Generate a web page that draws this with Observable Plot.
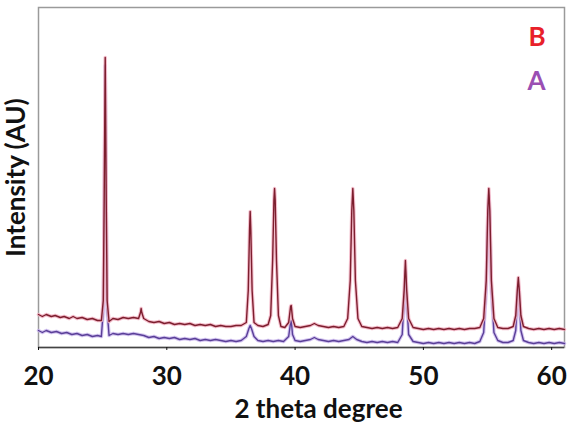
<!DOCTYPE html>
<html>
<head>
<meta charset="utf-8">
<script src="https://cdn.jsdelivr.net/npm/d3@7"></script>
<script src="https://cdn.jsdelivr.net/npm/@observablehq/plot@0.6"></script>
<style>
  body { margin: 0; background: #fff; }
  #chart { width: 570px; height: 424px; }
</style>
</head>
<body>
<div id="chart"></div>
<script>
// 2 theta (degree) and intensity (AU)
const bX = [20.0,20.3,20.6,21.0,21.3,21.7,22.0,22.4,22.7,23.0,23.4,23.8,24.2,24.6,24.9,25.05,25.12,25.2,25.28,25.35,25.5,25.8,26.2,26.6,27.0,27.4,27.8,27.95,28.0,28.05,28.2,28.6,29.0,29.4,29.8,30.2,30.6,31.0,31.4,31.8,32.2,32.6,33.0,33.4,33.8,34.2,34.6,35.0,35.4,35.8,36.2,36.35,36.45,36.5,36.55,36.65,36.8,37.1,37.5,37.9,38.1,38.25,38.35,38.4,38.45,38.55,38.7,38.9,39.2,39.5,39.65,39.7,39.8,40.0,40.4,40.8,41.2,41.5,41.8,42.2,42.6,43.0,43.4,43.8,44.1,44.3,44.42,44.5,44.58,44.7,44.9,45.2,45.6,46.0,46.4,46.8,47.2,47.6,48.0,48.35,48.5,48.6,48.7,48.85,49.2,49.6,50.0,50.4,50.8,51.2,51.6,52.0,52.4,52.8,53.2,53.6,54.0,54.4,54.7,54.9,55.02,55.1,55.18,55.3,55.5,55.8,56.2,56.6,57.0,57.2,57.32,57.4,57.48,57.6,57.8,58.2,58.6,59.0,59.4,59.8,60.2,60.6,61.0];
const bY = [33,31,33,31,32,30,31,29,31,29,30,28,29,27,27,47,147,290,147,47,26,29,28,30,29,30,29,35,39,35,29,26,25,26,24,25,23,24,23,24,22,23,22,23,21,22,21,21,22,22,25,57,117,136,117,57,25,22,21,23,32,87,147,159,147,87,32,21,20,25,41,42,29,21,20,21,22,24,22,21,20,21,20,21,29,67,137,159,137,67,29,21,20,19,20,19,20,19,20,29,57,87,57,29,20,19,18,19,18,19,18,19,18,19,18,19,19,20,29,67,137,159,137,67,29,20,19,19,21,32,57,70,57,32,21,19,18,19,18,19,18,19,18];

const aX = [20.0,20.3,20.6,21.0,21.4,21.8,22.2,22.6,23.0,23.4,23.8,24.2,24.6,24.9,25.05,25.12,25.2,25.28,25.35,25.5,25.8,26.2,26.6,27.0,27.4,27.8,28.2,28.6,29.0,29.4,29.8,30.2,30.6,31.0,31.4,31.8,32.2,32.6,33.0,33.4,33.8,34.2,34.6,35.0,35.4,35.8,36.2,36.4,36.5,36.6,36.8,37.1,37.5,37.9,38.3,38.7,39.1,39.5,39.65,39.7,39.8,40.0,40.4,40.8,41.2,41.5,41.8,42.2,42.6,43.0,43.4,43.8,44.2,44.5,44.8,45.2,45.6,46.0,46.4,46.8,47.2,47.6,48.0,48.35,48.5,48.6,48.7,48.85,49.2,49.6,50.0,50.4,50.8,51.2,51.6,52.0,52.4,52.8,53.2,53.6,54.0,54.4,54.7,54.9,55.02,55.1,55.18,55.3,55.5,55.8,56.2,56.6,57.0,57.2,57.32,57.4,57.48,57.6,57.8,58.2,58.6,59.0,59.4,59.8,60.2,60.6,61.0];
const aY = [17,15,17,15,16,14,15,13,14,12,13,11,12,11,37,137,282,137,37,12,14,13,14,13,14,13,12,10,11,9,10,9,10,8,9,8,9,7,8,7,8,7,6,7,6,7,11,19,22,19,11,7,6,7,6,7,6,11,25,27,13,7,6,7,8,10,8,7,6,7,6,7,8,11,8,6,5,6,5,6,5,6,5,13,47,77,47,13,6,5,4,5,4,5,4,5,4,5,4,5,4,6,15,57,127,152,127,57,15,7,5,5,7,17,47,62,47,17,7,5,4,5,4,5,4,5,4];

const xTicks = [20, 30, 40, 50, 60];
const seriesNames = ["B", "A"];
const seriesColors = ["#e8202a", "#9a4fb3"];

const rowsB = bX.map((x, i) => ({x, y: bY[i]}));
const rowsA = aX.map((x, i) => ({x, y: aY[i]}));

const chart = Plot.plot({
  width: 570,
  height: 424,
  marginLeft: 38,
  marginRight: 6,
  marginTop: 7,
  marginBottom: 77,
  style: {fontFamily: "Lato, 'Open Sans', sans-serif", fontWeight: "bold", fontSize: "26px", color: "#111", background: "#fff"},
  x: {domain: [20, 61]},
  y: {domain: [0, 340], axis: null},
  marks: [
    Plot.frame({stroke: "#9a9a9a", strokeWidth: 1.5}),
    Plot.line(rowsA, {x: "x", y: "y", stroke: "#c9b6ec", strokeWidth: 3.5, strokeOpacity: 0.8}),
    Plot.line(rowsA, {x: "x", y: "y", stroke: "#5a3f98", strokeWidth: 1.4}),
    Plot.line(rowsB, {x: "x", y: "y", stroke: "#f2b4c4", strokeWidth: 3.5, strokeOpacity: 0.85}),
    Plot.line(rowsB, {x: "x", y: "y", stroke: "#7d1e2e", strokeWidth: 1.4}),
    Plot.ruleY([0], {stroke: "#444", strokeWidth: 1.5}),
    Plot.axisX({ticks: xTicks, tickSize: 3, tickPadding: 16, fontSize: 26, fontWeight: "bold", label: null}),
    Plot.text(["2 theta degree"], {frameAnchor: "bottom", lineAnchor: "middle", dx: 17, dy: 62, fontSize: 26, fontWeight: "bold", fill: "#111"}),
    Plot.text(["Intensity (AU)"], {frameAnchor: "left", textAnchor: "middle", lineAnchor: "middle", rotate: -90, dx: -22, fontSize: 26, fontWeight: "bold", fill: "#111"}),
    Plot.text([seriesNames[0]], {frameAnchor: "top-right", lineAnchor: "top", dx: -19, dy: 20, fontSize: 26, fontWeight: "bold", fill: seriesColors[0]}),
    Plot.text([seriesNames[1]], {frameAnchor: "top-right", lineAnchor: "top", dx: -19, dy: 64, fontSize: 26, fontWeight: "bold", fill: seriesColors[1]})
  ]
});
document.getElementById("chart").appendChild(chart);
</script>
</body>
</html>
